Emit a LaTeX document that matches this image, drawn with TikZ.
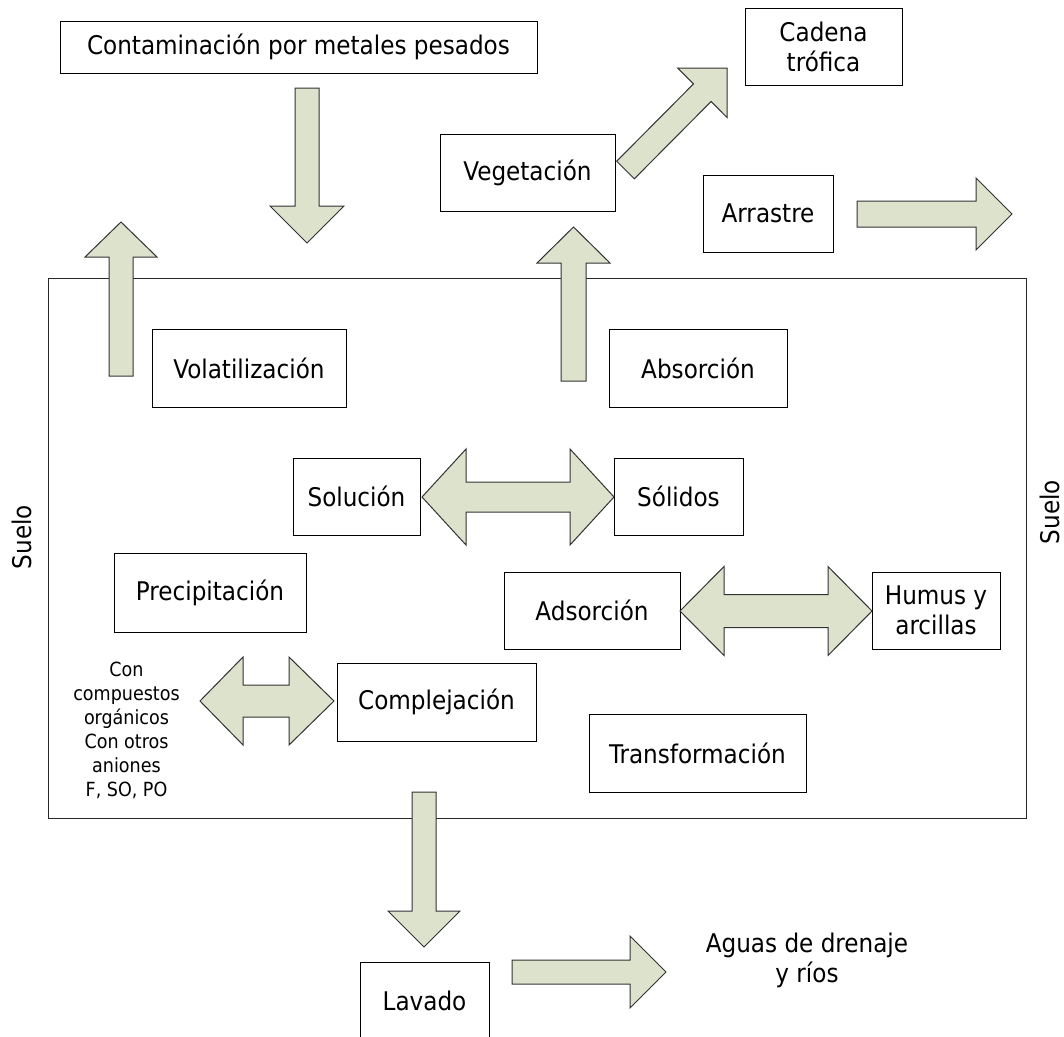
\documentclass[tikz,border=0pt]{standalone}
\usepackage{fontspec}
\setmainfont{DejaVu Sans Condensed}
\definecolor{arrowfill}{RGB}{221,226,205}
\definecolor{arrowline}{RGB}{50,50,50}
\definecolor{soilline}{RGB}{40,40,40}
\begin{document}
\begin{tikzpicture}[x=1pt, y=-1pt,
  txt/.style={font=\fontsize{25.7}{30}\selectfont, inner sep=0pt, outer sep=0pt, align=center},
  smalltxt/.style={font=\fontsize{19.5}{24}\selectfont, inner sep=0pt, align=center},
  box/.style={txt, draw=black, line width=1pt, fill=white},
  blk/.style={draw=arrowline, line width=1pt, fill=arrowfill, line join=miter},
  soilbox/.style={draw=soilline, line width=1pt}
]
\useasboundingbox (0,0) rectangle (1064,1036);

% soil compartment
\node[soilbox, minimum width=978, minimum height=540, anchor=north west] (soil) at (48,278) {};
\node[txt, rotate=90] (suelo1) at (22,537) {Suelo};
\node[txt, rotate=90] (suelo2) at (1050,512) {Suelo};

% boxes
\node[box, minimum width=477, minimum height=52] (cont) at (298.5,47) {Contaminación por metales pesados};
\node[box, minimum width=157, minimum height=77] (cadena) at (823.5,46.5) {Cadena\\trófica};
\node[box, minimum width=175, minimum height=77] (veg) at (527.5,172.5) {Vegetación};
\node[box, minimum width=130, minimum height=77] (arr) at (768,213.5) {Arrastre};
\node[box, minimum width=194, minimum height=78] (vol) at (249,368) {Volatilización};
\node[box, minimum width=178, minimum height=78] (abs) at (698,368) {Absorción};
\node[box, minimum width=127, minimum height=77] (sol) at (356.5,496.5) {Solución};
\node[box, minimum width=129, minimum height=77] (sold) at (678.5,496.5) {Sólidos};
\node[box, minimum width=192, minimum height=79] (prec) at (210,592.5) {Precipitación};
\node[box, minimum width=176, minimum height=77] (ads) at (592,610.5) {Adsorción};
\node[box, minimum width=128, minimum height=77] (hum) at (936,610.5) {Humus y\\arcillas};
\node[box, minimum width=199, minimum height=78] (comp) at (436.5,702) {Complejación};
\node[box, minimum width=217, minimum height=78] (trans) at (697.5,753) {Transformación};
\node[box, minimum width=129, minimum height=77] (lav) at (424.5,1000.5) {Lavado};

% free texts
\node[smalltxt] (con) at (126.5,730) {Con\\compuestos\\orgánicos\\Con otros\\aniones\\F, SO, PO};
\node[txt] (aguas) at (807,960) {Aguas de drenaje\\y ríos};

% block arrows
% contamination down into the soil
\draw[blk] (295,88) -- (319,88) -- (319,206) -- (344,206) -- (307,243) -- (270,206) -- (295,206) -- cycle;
% volatilization up
\draw[blk] (109,376) -- (109,257) -- (85,257) -- (121,222) -- (157,257) -- (133,257) -- (133,376) -- cycle;
% absorption up to vegetation
\draw[blk] (561,381) -- (561,263) -- (537,263) -- (573.5,227) -- (610,263) -- (586,263) -- (586,381) -- cycle;
% vegetation to food chain
\draw[blk] (616.7,161.2) -- (693.5,83.9) -- (677.6,68.0) -- (727,68) -- (727,117.5) -- (711.1,101.5) -- (634.3,178.8) -- cycle;
% runoff
\draw[blk] (857,201) -- (976,201) -- (976,178) -- (1012,214) -- (976,250) -- (976,227) -- (857,227) -- cycle;
% solution <-> solids
\draw[blk] (422,497) -- (466,449) -- (466,482) -- (570,482) -- (570,449) -- (614,497) -- (570,545) -- (570,512) -- (466,512) -- (466,545) -- cycle;
% adsorption <-> humus and clays
\draw[blk] (680,611) -- (724,566.5) -- (724,594.5) -- (828,594.5) -- (828,566.5) -- (872,611) -- (828,655.5) -- (828,627.5) -- (724,627.5) -- (724,655.5) -- cycle;
% ligands <-> complexation
\draw[blk] (200,701) -- (243,657) -- (243,685) -- (289,685) -- (289,657) -- (334,701) -- (289,745) -- (289,717) -- (243,717) -- (243,745) -- cycle;
% leaching down
\draw[blk] (412,792) -- (436,792) -- (436,911) -- (460,911) -- (424,947) -- (388,911) -- (412,911) -- cycle;
% leaching to drainage waters
\draw[blk] (512,960) -- (630,960) -- (630,936) -- (666,972) -- (630,1008) -- (630,984) -- (512,984) -- cycle;
\end{tikzpicture}
\end{document}
